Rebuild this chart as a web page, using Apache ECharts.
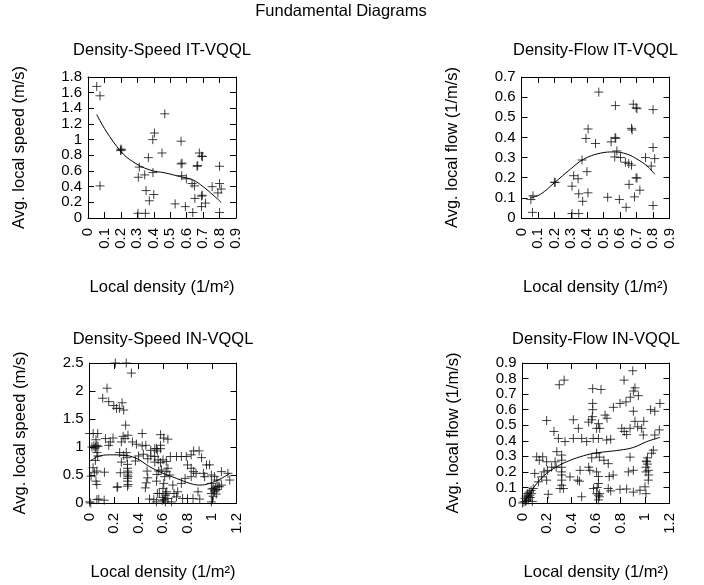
<!DOCTYPE html>
<html>
<head>
<meta charset="utf-8">
<script src="https://cdn.jsdelivr.net/npm/echarts@6/dist/echarts.min.js"></script>
<style>
html, body { margin: 0; padding: 0; background: #fff; }
#main { width: 704px; height: 585px; }
</style>
</head>
<body>
<div id="main"></div>
<script>
// values
var titles = ['Density-Speed IT-VQQL', 'Density-Flow IT-VQQL', 'Density-Speed IN-VQQL', 'Density-Flow IN-VQQL'];
var yNames = ['Avg. local speed (m/s)', 'Avg. local flow (1/m/s)', 'Avg. local speed (m/s)', 'Avg. local flow (1/m/s)'];
var xName = 'Local density (1/m²)';

// axis ranges [min, max, interval] for x and y of each panel
var xRanges = [[0, 0.9, 0.1], [0, 0.9, 0.1], [0, 1.2, 0.2], [0, 1.2, 0.2]];
var yRanges = [[0, 1.8, 0.2], [0, 0.7, 0.1], [0, 2.5, 0.5], [0, 0.9, 0.1]];

// IT-VQQL density/speed
var itSpeedPts = [
    [0.053, 1.68], [0.073, 1.56], [0.073, 0.41], [0.20, 0.88], [0.205, 0.87], [0.198, 0.86],
    [0.312, 0.65], [0.306, 0.52], [0.345, 0.55], [0.395, 0.58], [0.367, 0.77], [0.394, 1.0],
    [0.404, 1.085], [0.45, 0.83], [0.467, 1.33], [0.353, 0.35], [0.40, 0.30], [0.373, 0.22],
    [0.304, 0.06], [0.349, 0.06], [0.53, 0.18], [0.566, 0.98], [0.566, 0.69], [0.572, 0.70],
    [0.57, 0.54], [0.598, 0.50], [0.592, 0.145], [0.633, 0.44], [0.647, 0.41], [0.663, 0.66],
    [0.667, 0.67], [0.677, 0.83], [0.69, 0.79], [0.696, 0.785], [0.69, 0.28], [0.695, 0.29],
    [0.65, 0.25], [0.637, 0.07], [0.69, 0.145], [0.714, 0.19], [0.755, 0.40], [0.80, 0.66],
    [0.80, 0.44], [0.81, 0.37], [0.79, 0.32], [0.80, 0.07]
];
var itSpeedFit = [
    [0.053, 1.32], [0.11, 1.11], [0.2, 0.85], [0.272, 0.72], [0.373, 0.615], [0.475, 0.573],
    [0.556, 0.53], [0.637, 0.487], [0.70, 0.40], [0.76, 0.295], [0.81, 0.20]
];

// IT-VQQL density/flow
var itFlowPts = [
    [0.057, 0.092], [0.07, 0.11], [0.067, 0.028], [0.20, 0.178], [0.205, 0.176], [0.47, 0.625],
    [0.571, 0.558], [0.68, 0.565], [0.697, 0.547], [0.702, 0.543], [0.80, 0.538], [0.405, 0.442],
    [0.392, 0.395], [0.45, 0.37], [0.545, 0.378], [0.569, 0.40], [0.573, 0.395], [0.669, 0.445],
    [0.673, 0.437], [0.368, 0.288], [0.398, 0.23], [0.317, 0.21], [0.344, 0.195], [0.307, 0.158],
    [0.348, 0.12], [0.372, 0.083], [0.404, 0.125], [0.307, 0.022], [0.348, 0.022], [0.524, 0.103],
    [0.595, 0.092], [0.636, 0.053], [0.58, 0.333], [0.567, 0.303], [0.602, 0.30], [0.632, 0.277],
    [0.652, 0.27], [0.669, 0.262], [0.654, 0.167], [0.697, 0.20], [0.702, 0.198], [0.72, 0.138],
    [0.687, 0.105], [0.754, 0.30], [0.80, 0.35], [0.81, 0.295], [0.789, 0.258], [0.80, 0.062]
];
var itFlowFit = [
    [0.053, 0.10], [0.114, 0.117], [0.2, 0.175], [0.297, 0.242], [0.378, 0.292], [0.48, 0.322],
    [0.565, 0.328], [0.642, 0.317], [0.703, 0.292], [0.764, 0.258], [0.81, 0.217]
];

// IN-VQQL density/speed
var inSpeedPts = [
    [0.211, 2.50], [0.30, 2.50], [0.342, 2.32], [0.143, 2.05], [0.108, 1.87], [0.157, 1.81],
    [0.198, 1.74], [0.22, 1.69], [0.244, 1.69], [0.266, 1.79], [0.279, 1.66], [0.295, 1.39],
    [0.0, 1.24], [0.03, 1.24], [0.067, 1.24], [0.13, 1.15], [0.192, 1.16], [0.274, 1.19],
    [0.314, 1.21], [0.43, 1.24], [0.58, 1.22], [0.053, 1.13], [0.02, 1.0], [0.035, 1.02],
    [0.05, 1.0], [0.06, 1.03], [0.07, 1.01], [0.045, 0.98], [0.157, 1.03], [0.17, 1.09],
    [0.26, 1.09], [0.29, 1.15], [0.35, 1.09], [0.383, 1.05], [0.43, 1.02], [0.46, 1.03],
    [0.50, 0.94], [0.547, 0.97], [0.58, 1.03], [0.06, 0.90], [0.067, 0.84], [0.048, 0.76],
    [0.029, 0.63], [0.04, 0.54], [0.06, 0.57], [0.122, 0.55], [0.053, 0.39], [0.06, 0.33],
    [0.013, 0.48], [0.246, 0.90], [0.279, 0.85], [0.30, 0.90], [0.306, 0.81], [0.26, 0.73],
    [0.252, 0.54], [0.31, 0.69], [0.31, 0.62], [0.31, 0.57], [0.315, 0.54], [0.31, 0.50],
    [0.315, 0.47], [0.31, 0.44], [0.31, 0.39], [0.315, 0.33], [0.31, 0.30], [0.375, 0.75],
    [0.40, 0.84], [0.44, 0.87], [0.476, 0.79], [0.50, 0.84], [0.47, 0.57], [0.475, 0.45],
    [0.464, 0.36], [0.456, 0.27], [0.533, 0.73], [0.55, 0.51], [0.547, 0.39], [0.565, 0.57],
    [0.225, 0.28], [0.23, 0.29], [0.076, 0.07], [0.06, 0.06], [0.12, 0.05], [0.0, 0.02],
    [0.01, 0.0], [0.49, 0.07], [0.525, 0.06], [0.57, 0.17], [0.533, 0.97], [0.606, 1.16],
    [0.64, 1.14], [0.554, 0.93], [0.58, 0.97], [0.532, 0.83], [0.56, 0.77], [0.58, 0.72],
    [0.60, 0.77], [0.627, 0.74], [0.66, 0.83], [0.71, 0.83], [0.75, 0.83], [0.79, 0.83],
    [0.83, 0.86], [0.85, 0.93], [0.895, 0.93], [0.915, 0.81], [0.955, 0.68], [0.98, 0.68],
    [0.80, 0.68], [0.83, 0.62], [0.85, 0.56], [0.87, 0.53], [0.93, 0.53], [0.94, 0.47],
    [0.995, 0.50], [1.02, 0.47], [1.077, 0.56], [1.13, 0.53], [1.145, 0.41], [1.04, 0.41],
    [0.995, 0.35], [1.01, 0.26], [1.02, 0.20], [0.995, 0.17], [1.035, 0.16], [1.06, 0.29],
    [1.077, 0.32], [0.995, 0.02], [0.886, 0.20], [0.90, 0.07], [0.845, 0.08], [0.80, 0.08],
    [0.76, 0.08], [0.71, 0.11], [0.69, 0.17], [0.72, 0.20], [0.68, 0.32], [0.75, 0.35],
    [0.78, 0.44], [0.83, 0.47], [0.655, 0.50], [0.614, 0.47], [0.606, 0.35], [0.60, 0.26],
    [0.62, 0.17], [0.595, 0.05], [0.62, 0.02], [0.554, 0.17], [0.546, 0.02], [0.64, 0.08],
    [0.67, 0.02], [0.587, 0.59], [0.627, 0.56], [0.64, 0.62], [1.0, 0.25], [1.02, 0.23],
    [1.04, 0.24], [1.01, 0.12], [1.03, 0.28], [1.05, 0.30], [0.60, 0.10], [0.62, 0.14],
    [0.63, 0.20], [0.61, 0.06]
];
var inSpeedFit = [
    [0.0, 0.74], [0.07, 0.83], [0.165, 0.86], [0.27, 0.855], [0.38, 0.80], [0.49, 0.65],
    [0.60, 0.53], [0.71, 0.44], [0.82, 0.35], [0.90, 0.32], [0.98, 0.35], [1.077, 0.44],
    [1.145, 0.53]
];

// IN-VQQL density/flow
var inFlowPts = [
    [0.30, 0.76], [0.34, 0.79], [0.573, 0.735], [0.641, 0.73], [0.829, 0.79], [0.90, 0.85],
    [0.918, 0.74], [0.905, 0.72], [0.946, 0.69], [0.88, 0.68], [0.845, 0.65], [0.796, 0.64],
    [0.742, 0.615], [0.674, 0.565], [0.69, 0.545], [0.573, 0.64], [0.573, 0.60], [0.57, 0.555],
    [0.565, 0.535], [0.54, 0.52], [0.62, 0.51], [0.605, 0.48], [0.63, 0.48], [0.456, 0.48],
    [0.415, 0.535], [0.197, 0.53], [0.257, 0.46], [0.293, 0.415], [0.347, 0.395], [0.415, 0.415],
    [0.483, 0.415], [0.524, 0.395], [0.577, 0.415], [0.62, 0.415], [0.687, 0.405], [0.72, 0.41],
    [0.81, 0.48], [0.83, 0.46], [0.85, 0.44], [0.878, 0.48], [0.918, 0.525], [0.94, 0.49],
    [0.973, 0.48], [0.986, 0.437], [1.046, 0.60], [1.08, 0.59], [1.122, 0.64], [1.117, 0.47],
    [1.08, 0.437], [0.99, 0.525], [0.905, 0.59], [1.054, 0.32], [1.068, 0.34], [1.02, 0.29],
    [1.014, 0.265], [1.008, 0.23], [1.027, 0.21], [1.008, 0.20], [1.027, 0.147], [1.0, 0.104],
    [1.008, 0.06], [0.959, 0.082], [0.905, 0.07], [0.85, 0.09], [0.796, 0.088], [0.72, 0.078],
    [0.70, 0.093], [0.74, 0.18], [0.708, 0.17], [0.627, 0.04], [0.62, 0.02], [0.605, 0.06],
    [0.63, 0.06], [0.62, 0.125], [0.62, 0.17], [0.605, 0.20], [0.55, 0.21], [0.54, 0.23],
    [0.565, 0.29], [0.605, 0.32], [0.627, 0.295], [0.665, 0.275], [0.70, 0.253], [0.878, 0.295],
    [0.864, 0.20], [0.905, 0.21], [0.483, 0.04], [0.47, 0.21], [0.465, 0.14], [0.45, 0.147],
    [0.58, 0.093], [0.388, 0.168], [0.32, 0.308], [0.32, 0.275], [0.32, 0.23], [0.32, 0.20],
    [0.32, 0.18], [0.32, 0.147], [0.32, 0.114], [0.306, 0.093], [0.334, 0.093], [0.28, 0.33],
    [0.266, 0.265], [0.275, 0.23], [0.238, 0.23], [0.203, 0.21], [0.197, 0.147], [0.21, 0.056],
    [0.156, 0.168], [0.13, 0.136], [0.10, 0.19], [0.088, 0.093], [0.075, 0.06], [0.048, 0.04],
    [0.034, 0.017], [0.012, 0.007], [0.0, 0.0], [0.137, 0.275], [0.165, 0.297], [0.116, 0.297],
    [0.176, 0.2], [0.197, 0.265], [0.02, 0.03], [0.04, 0.06], [0.055, 0.07], [0.06, 0.05],
    [0.07, 0.08], [0.05, 0.02], [0.03, 0.045], [0.065, 0.035], [0.08, 0.01], [0.025, 0.01],
    [1.02, 0.25], [1.03, 0.18], [1.01, 0.27], [0.62, 0.05], [0.61, 0.10]
];
var inFlowFit = [
    [0.02, 0.007], [0.061, 0.06], [0.116, 0.125], [0.197, 0.19], [0.279, 0.233], [0.36, 0.265],
    [0.47, 0.297], [0.578, 0.319], [0.687, 0.33], [0.796, 0.34], [0.905, 0.357], [1.013, 0.394],
    [1.122, 0.422]
];

var grids = [
    { left: 88, top: 77, width: 148, height: 141 },
    { left: 521.5, top: 77, width: 148, height: 141 },
    { left: 89.5, top: 363, width: 147, height: 140 },
    { left: 522.5, top: 363, width: 147, height: 140 }
];
var subTops = [42, 42, 331, 331];

var font = 'Liberation Sans';
var fs = 16.5;      // titles and axis names
var tickFs = 15;    // tick labels (bigger ones get thinned out by echarts)
var plus = 'path://M0,5L10,5M5,0L5,10';
var lineStyle = { color: '#000', width: 1 };

var xAxes = [], yAxes = [], series = [], titleList = [];
titleList.push({
    text: 'Fundamental Diagrams', left: 341, top: 3, textAlign: 'center', padding: 0,
    textStyle: { fontFamily: font, fontSize: fs, fontWeight: 'normal', color: '#000' }
});

var ptsList = [itSpeedPts, itFlowPts, inSpeedPts, inFlowPts];
var fitList = [itSpeedFit, itFlowFit, inSpeedFit, inFlowFit];

for (var i = 0; i < 4; i++) {
    var g = grids[i];
    titleList.push({
        text: titles[i], left: g.left + g.width / 2, top: subTops[i], textAlign: 'center', padding: 0,
        textStyle: { fontFamily: font, fontSize: fs, fontWeight: 'normal', color: '#000' }
    });
    var xr = xRanges[i], yr = yRanges[i];
    // bottom / left axes carry labels, top / right only mirror the ticks (gnuplot box)
    xAxes.push({
        gridIndex: i, type: 'value', min: xr[0], max: xr[1], interval: xr[2], position: 'bottom',
        name: xName, nameLocation: 'middle', nameGap: 61,
        nameTextStyle: { fontFamily: font, fontSize: fs, color: '#000' },
        axisLine: { show: true, onZero: false, lineStyle: lineStyle },
        axisTick: { show: true, inside: true, length: 6, lineStyle: lineStyle },
        axisLabel: { rotate: 90, margin: 10, fontFamily: font, fontSize: tickFs, color: '#000' },
        splitLine: { show: false }
    });
    xAxes.push({
        gridIndex: i, type: 'value', min: xr[0], max: xr[1], interval: xr[2], position: 'top',
        axisLine: { show: true, onZero: false, lineStyle: lineStyle },
        axisTick: { show: true, inside: true, length: 6, lineStyle: lineStyle },
        axisLabel: { show: false }, splitLine: { show: false }
    });
    yAxes.push({
        gridIndex: i, type: 'value', min: yr[0], max: yr[1], interval: yr[2], position: 'left',
        name: yNames[i], nameLocation: 'middle', nameGap: 60.5,
        nameTextStyle: { fontFamily: font, fontSize: fs, color: '#000' },
        axisLine: { show: true, onZero: false, lineStyle: lineStyle },
        axisTick: { show: true, inside: true, length: 6, lineStyle: lineStyle },
        axisLabel: { margin: 6, fontFamily: font, fontSize: tickFs, color: '#000' },
        splitLine: { show: false }
    });
    yAxes.push({
        gridIndex: i, type: 'value', min: yr[0], max: yr[1], interval: yr[2], position: 'right',
        axisLine: { show: true, onZero: false, lineStyle: lineStyle },
        axisTick: { show: true, inside: true, length: 6, lineStyle: lineStyle },
        axisLabel: { show: false }, splitLine: { show: false }
    });
    series.push({
        type: 'scatter', xAxisIndex: 2 * i, yAxisIndex: 2 * i, data: ptsList[i],
        symbol: plus, symbolSize: 9,
        itemStyle: { color: 'rgba(0,0,0,0)', borderColor: '#111', borderWidth: 1 }
    });
    series.push({
        type: 'line', xAxisIndex: 2 * i, yAxisIndex: 2 * i, data: fitList[i],
        smooth: 0.4, showSymbol: false, lineStyle: lineStyle
    });
}

var myChart = echarts.init(document.getElementById('main'));
myChart.setOption({
    backgroundColor: '#fff',
    animation: false,
    title: titleList,
    grid: grids,
    xAxis: xAxes,
    yAxis: yAxes,
    series: series
});
</script>
</body>
</html>
